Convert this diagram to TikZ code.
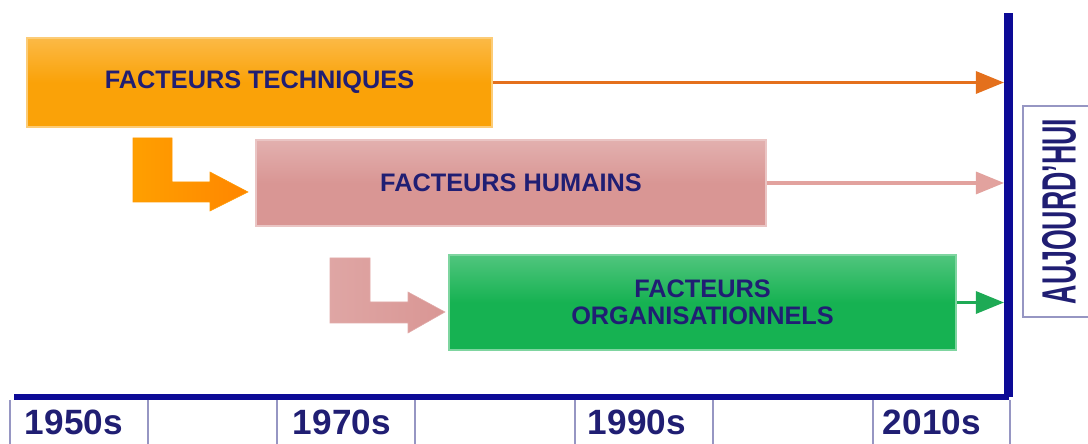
\documentclass[tikz,border=0pt]{standalone}
\usepackage{fontspec}
\setmainfont{Liberation Sans}
\usetikzlibrary{arrows.meta}
\definecolor{navytxt}{RGB}{32,30,115}
\definecolor{axeblue}{RGB}{12,10,150}
\definecolor{cellline}{RGB}{150,150,195}
\definecolor{orangebox}{RGB}{250,162,8}
\definecolor{orangeline}{RGB}{228,112,28}
\definecolor{pinkbox}{RGB}{217,150,148}
\definecolor{pinkline}{RGB}{226,162,158}
\definecolor{greenbox}{RGB}{22,178,82}
\definecolor{greenline}{RGB}{30,170,85}

\begin{document}
\begin{tikzpicture}[x=0.025cm,y=-0.025cm,
    every node/.style={font=\bfseries\fontsize{18}{19}\selectfont, text=navytxt},
    facteur/.style={draw=#1!55!white, line width=1pt, top color=#1!75!white, bottom color=#1, middle color=#1, inner sep=0pt, align=center},
    fleche/.style={line width=2.2pt, -{Triangle[length=0.7cm,width=0.55cm]}},
    annee/.style={anchor=west, font=\bfseries\fontsize{25}{25}\selectfont}]
    \useasboundingbox (0,0) rectangle (1088,444);
    % les trois facteurs
        \node[facteur=orangebox, minimum width=11.625cm, minimum height=2.225cm] (tech) at (259.5,82.5) {FACTEURS TECHNIQUES};
        \node[facteur=pinkbox, minimum width=12.75cm, minimum height=2.15cm] (hum) at (511,183) {FACTEURS HUMAINS};
        \node[facteur=greenbox, minimum width=12.675cm, minimum height=2.375cm] (orga) at (702.5,302.5) {FACTEURS\\ORGANISATIONNELS};
    % fleches en L
        \draw[draw=orange!80!yellow, left color=orange!75!yellow, right color=orange!95!yellow] (133,138) -- (172,138) -- (172,182) -- (210,182) -- (210,172) -- (248,192) -- (210,211) -- (210,202) -- (133,202) -- cycle;
        \draw[draw=pinkbox!80!white, left color=pinkbox!85!white, right color=pinkbox] (330,258) -- (370,258) -- (370,302) -- (408,302) -- (408,292) -- (445,312) -- (408,333) -- (408,323) -- (330,323) -- cycle;
    % axe du temps
        \coordinate (haut) at (1008.5,13);
        \coordinate (coin) at (1008.5,397);
        \coordinate (debut) at (14,397);
        \coordinate (bord) at (1004,0);
        \draw[axeblue, line width=0.15cm] (debut) -- (coin);
        \draw[axeblue, line width=0.225cm] (coin) -- (haut);
        \draw[fleche, orangeline] (tech.east) -- (tech.east -| bord);
        \draw[fleche, pinkline] (hum.east) -- (hum.east -| bord);
        \draw[fleche, greenline] (orga.east) -- (orga.east -| bord);
    % cases des annees
        \foreach \x in {10,148,277,415,575,713,873,1010}
            \draw[cellline, line width=1pt] (\x,400) -- (\x,444);
        \node[annee] (an1950) at (20,422) {1950s};
        \node[annee] (an1970) at (288,422) {1970s};
        \node[annee] (an1990) at (583,422) {1990s};
        \node[annee] (an2010) at (878,422) {2010s};
    % aujourd'hui
        \node[draw=cellline, line width=1pt, rotate=90, minimum width=5.275cm, minimum height=1.8cm, inner sep=0pt, font=\bfseries\fontsize{19}{19}\selectfont] (auj) at (1059,211.5) {\scalebox{1}[1.8]{AUJOURD'HUI}};
    \end{tikzpicture}
\end{document}
